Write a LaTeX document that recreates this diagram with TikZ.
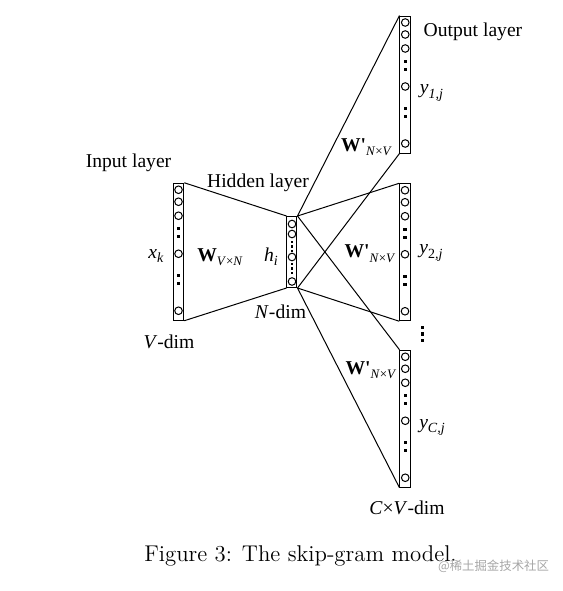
\documentclass[tikz,border=0pt]{standalone}
\usepackage{fontspec}
\newfontfamily\tnr{Liberation Serif}
\newfontfamily\cjk{Noto Sans CJK SC}
\begin{document}
\begin{tikzpicture}[x=0.5pt,y=-0.5pt,line width=0.5pt,
  col/.style={draw, inner sep=0pt, minimum width=5.25pt, minimum height=68.5pt},
  hcol/.style={draw, inner sep=0pt, minimum width=5pt, minimum height=35.5pt},
  lbl/.style={inner sep=0pt, font=\tnr\fontsize{9.8}{11}\selectfont},
  neuron/.style={draw, circle, inner sep=0pt, minimum size=3.8pt},
  sq/.style={fill, inner sep=0pt, minimum size=1.6pt}]
\useasboundingbox (0,0) rectangle (563,591);
% columns
\node[col]  (in)  at (178.5,251.75) {};
\node[hcol] (hid) at (292,252) {};
\node[col]  (o1)  at (405.25,84.5) {};
\node[col]  (o2)  at (405,252.25) {};
\node[col]  (o3)  at (405.25,418.75) {};
% neurons in the long columns
\foreach \c in {in,o1,o2,o3}{
  \foreach \d [count=\k] in {7,19,33,71,128}
    \node[neuron] (\c-n\k) at ([yshift=-\d*0.5pt]\c.north) {};
  \foreach \d [count=\k] in {46,54,93,101}
    \node[sq] (\c-s\k) at ([yshift=-\d*0.5pt]\c.north) {};
}
% neurons in the hidden column
\foreach \d [count=\k] in {8,18,41,65.5}
  \node[neuron] (hid-n\k) at ([yshift=-\d*0.5pt]hid.north) {};
\foreach \d [count=\k] in {26,30.5,35,48,52.5,57}
  \node[sq, minimum size=1.4pt] (hid-s\k) at ([yshift=-\d*0.5pt]hid.north) {};
% vertical dots between outputs
\node[sq] (vd1) at (422.7,327.5) {};
\node[sq] (vd2) at (422.7,334) {};
\node[sq] (vd3) at (422.7,340.5) {};
% connections
\draw (in.north east) -- (hid.north west);
\draw (in.south east) -- (hid.south west);
\foreach \o in {o1,o2,o3}{
  \draw (hid.north east) -- (\o.north west);
  \draw (hid.south east) -- (\o.south west);
}
% labels
\node[lbl] (tin)  at (128.5,163) {Input layer};
\node[lbl] (thid) at (258,182.5) {Hidden layer};
\node[lbl] (tout) at (473,32) {Output layer};
\node[lbl] (xk)   at (156,256) {\textit{x}\raisebox{-0.45ex}{\fontsize{7}{8}\selectfont\textit{k}}};
\node[lbl] (W)    at (220,257) {\textbf{W}\raisebox{-0.5ex}{\fontsize{6.5}{8}\selectfont\textit{V}×\textit{N}}};
\node[lbl] (hi)   at (271,257) {\textit{h}\raisebox{-0.45ex}{\fontsize{7}{8}\selectfont\textit{i}}};
\node[lbl] (nd)   at (280.5,311.5) {\textit{N}-dim};
\node[lbl] (vd)   at (169,342) {\textit{V}-dim};
\node[lbl] (W1)   at (366.5,147) {\textbf{W'}\raisebox{-0.5ex}{\fontsize{6.5}{8}\selectfont\textit{N}×\textit{V}}};
\node[lbl] (W2)   at (370,253.5) {\textbf{W'}\raisebox{-0.5ex}{\fontsize{6.5}{8}\selectfont\textit{N}×\textit{V}}};
\node[lbl] (W3)   at (371,370) {\textbf{W'}\raisebox{-0.5ex}{\fontsize{6.5}{8}\selectfont\textit{N}×\textit{V}}};
\node[lbl] (y1)   at (431.5,93) {\textit{y}\raisebox{-0.5ex}{\fontsize{7}{8}\selectfont\textit{1,j}}};
\node[lbl] (y2)   at (431,253) {\textit{y}\raisebox{-0.5ex}{\fontsize{7}{8}\selectfont2\textit{,j}}};
\node[lbl] (yC)   at (432,427.5) {\textit{y}\raisebox{-0.5ex}{\fontsize{7}{8}\selectfont\textit{C,j}}};
\node[lbl] (cvd)  at (407,508) {\textit{C}×\textit{V}-dim};
% caption
\node[inner sep=0pt, font=\fontsize{11.4}{13}\selectfont] (cap) at (300.5,556) {Figure 3: The skip-gram model.};
\node[inner sep=0pt, text=black!35, font=\cjk\fontsize{6.2}{7}\selectfont] (wm) at (493.5,566) {@稀土掘金技术社区};
\end{tikzpicture}
\end{document}
